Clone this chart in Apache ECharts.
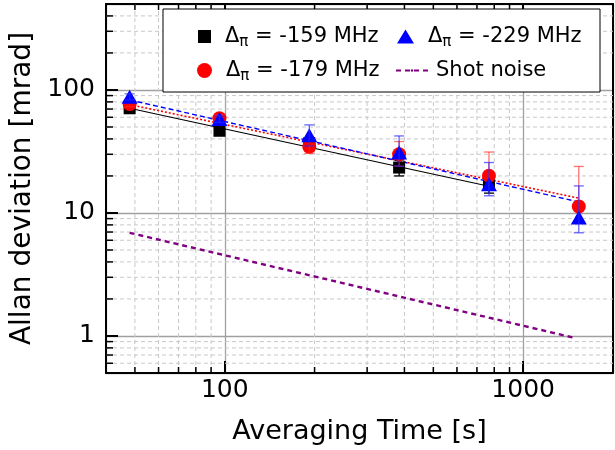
<!DOCTYPE html>
<html><head><meta charset="utf-8">
<script src="https://cdn.jsdelivr.net/npm/echarts@6/dist/echarts.min.js"></script>
<style>html,body{margin:0;padding:0;background:#fff}#c{width:615px;height:450px}</style>
</head><body><div id="c"></div>
<script>
// ---- data ----
const times = [48, 96, 192, 384, 768, 1536];
const dev159 = [71, 46.6, 37, 23.4, 17.5];
const low159 = [68, 44.5, 34, 20.0, 14.5];
const high159 = [74, 49, 40, 27, 21];
const dev179 = [77, 59, 34.5, 30, 20.1, 11.3];
const low179 = [73, 55.5, 30.5, 24, 15.4, 8.6];
const high179 = [81, 62.5, 39.3, 38.1, 31.3, 23.9];
const dev229 = [88, 58, 42.8, 31, 17.1, 9.2];
const low229 = [83, 54.5, 35, 24, 13.8, 6.9];
const high229 = [93, 61.5, 52, 42.3, 25.7, 16.6];
const fitTimes159 = [48, 768];
const fit159 = [71, 16.5];
const fitTimes = [48, 1536];
const fit179 = [76, 13.2];
const fit229 = [83, 12.3];
const shotTimes = [48, 1500];
const shotNoise = [6.9, 0.96];
const xMinorTicks = [50, 60, 70, 80, 90, 200, 300, 400, 500, 600, 700, 800, 900];
const yMinorTicks = [0.6, 0.7, 0.8, 0.9, 2, 3, 4, 5, 6, 7, 8, 9, 20, 30, 40, 50, 60, 70, 80, 90, 200, 300, 400];
const names = ['Δπ = -159 MHz', 'Δπ = -179 MHz', 'Δπ = -229 MHz', 'Shot noise'];

const FONT = 'DejaVu Sans';
const zip = (xs, ys) => ys.map((v, i) => [xs[i], v]);
const zip3 = (xs, lo, hi) => lo.map((v, i) => [xs[i], v, hi[i]]);

function errSeries(id, color, lo, hi, z) {
  return {
    type: 'custom', name: id, z: z, silent: true,
    data: zip3(times, lo, hi),
    encode: { x: 0, y: [1, 2] },
    renderItem: function (params, api) {
      const t = api.value(0);
      const a = api.coord([t, api.value(1)]);
      const b = api.coord([t, api.value(2)]);
      const w = 5;
      const st = { stroke: color, lineWidth: 1.3 };
      return { type: 'group', children: [
        { type: 'line', shape: { x1: a[0], y1: a[1], x2: b[0], y2: b[1] }, style: st },
        { type: 'line', shape: { x1: a[0] - w, y1: a[1], x2: a[0] + w, y2: a[1] }, style: st },
        { type: 'line', shape: { x1: b[0] - w, y1: b[1], x2: b[0] + w, y2: b[1] }, style: st }
      ]};
    }
  };
}

const richText = {
  d: { fontFamily: FONT, fontSize: 21, color: '#000' },
  s: { fontFamily: FONT, fontSize: 15, color: '#000', padding: [12, 0, 0, 0] },
  t: { fontFamily: FONT, fontSize: 21, color: '#000' }
};
function legendFmt(name) {
  if (name.indexOf('Δπ') === 0) return '{d|Δ}{s|π}{t|' + name.slice(2) + '}';
  return '{t|' + name + '}';
}
function oneLegend(name, icon, left, top, w, h, padLeft) {
  return {
    data: [{ name: name, icon: icon }], left: left, top: top, padding: 0,
    itemWidth: w, itemHeight: h, z: 20, selectedMode: false,
    formatter: legendFmt,
    textStyle: { fontFamily: FONT, fontSize: 21, color: '#000', padding: [0, 0, 0, padLeft], rich: richText }
  };
}

const chart = echarts.init(document.getElementById('c'), null, { renderer: 'canvas' });
const axisCommon = {
  type: 'log', logBase: 10
};
chart.setOption({
  animation: false,
  textStyle: { fontFamily: FONT },
  grid: { left: 106, right: 2, top: 4, bottom: 77 },
  graphic: [{
    type: 'rect', z: 10, shape: { x: 163, y: 9, width: 437, height: 83 },
    style: { fill: '#fff', stroke: '#000', lineWidth: 1 }
  }],
  legend: [
    oneLegend(names[0], 'rect', 198, 26, 13, 13, 9),
    oneLegend(names[2], 'triangle', 397, 26, 17, 14, 9),
    oneLegend(names[1], 'circle', 197, 60, 15, 15, 9),
    oneLegend(names[3], null, 395, 60, 32, 3, 3)
  ],
  xAxis: [{
    ...axisCommon, position: 'bottom', min: 40, max: 2000,
    name: 'Averaging Time [s]', nameLocation: 'middle', nameGap: 45,
    nameTextStyle: { fontFamily: FONT, fontSize: 27, color: '#000' },
    axisLine: { show: true, lineStyle: { color: '#000', width: 2 } },
    axisTick: { show: true, inside: true, length: 12, lineStyle: { color: '#000', width: 2 } },
    axisLabel: { fontFamily: FONT, fontSize: 25, color: '#000', margin: 5, showMinLabel: false, showMaxLabel: false, formatter: v => String(v) },
    splitLine: { show: true, lineStyle: { color: '#a0a0a0', width: 1.3 } }
  }, {
    ...axisCommon, position: 'top', min: 40, max: 2000,
    axisLine: { show: true, lineStyle: { color: '#000', width: 2 } },
    axisTick: { show: true, inside: true, length: 12, lineStyle: { color: '#000', width: 2 } },
    axisLabel: { show: false }, splitLine: { show: false }
  }],
  yAxis: [{
    ...axisCommon, position: 'left', min: 0.5, max: 500,
    name: 'Allan deviation [mrad]', nameLocation: 'middle', nameGap: 68,
    nameTextStyle: { fontFamily: FONT, fontSize: 28, color: '#000' },
    axisLine: { show: true, lineStyle: { color: '#000', width: 2 } },
    axisTick: { show: true, inside: true, length: 12, lineStyle: { color: '#000', width: 2 } },
    axisLabel: { fontFamily: FONT, fontSize: 25, color: '#000', margin: 11, showMinLabel: false, showMaxLabel: false, formatter: v => String(v) },
    splitLine: { show: true, lineStyle: { color: '#a0a0a0', width: 1.3 } }
  }, {
    ...axisCommon, position: 'right', min: 0.5, max: 500,
    axisLine: { show: true, lineStyle: { color: '#000', width: 2 } },
    axisTick: { show: false }, axisLabel: { show: false }, splitLine: { show: false }
  }],
  series: [
    {
      type: 'custom', name: 'xminor', z: 1, silent: true,
      data: xMinorTicks.map(v => [v, 1]), encode: { x: 0, y: 1 },
      renderItem: function (params, api) {
        const cs = params.coordSys;
        const x = api.coord([api.value(0), 1])[0];
        const bot = cs.y + cs.height;
        return { type: 'group', children: [
          { type: 'line', shape: { x1: x, y1: cs.y, x2: x, y2: bot }, style: { stroke: '#c8c8c8', lineWidth: 1, lineDash: [4, 3] } },
          { type: 'line', shape: { x1: x, y1: bot, x2: x, y2: bot - 6 }, style: { stroke: '#000', lineWidth: 1.5 } },
          { type: 'line', shape: { x1: x, y1: cs.y, x2: x, y2: cs.y + 6 }, style: { stroke: '#000', lineWidth: 1.5 } }
        ]};
      }
    },
    {
      type: 'custom', name: 'yminor', z: 1, silent: true,
      data: yMinorTicks.map(v => [100, v]), encode: { x: 0, y: 1 },
      renderItem: function (params, api) {
        const cs = params.coordSys;
        const y = api.coord([100, api.value(1)])[1];
        return { type: 'group', children: [
          { type: 'line', shape: { x1: cs.x, y1: y, x2: cs.x + cs.width, y2: y }, style: { stroke: '#c8c8c8', lineWidth: 1, lineDash: [4, 3] } },
          { type: 'line', shape: { x1: cs.x, y1: y, x2: cs.x + 7, y2: y }, style: { stroke: '#000', lineWidth: 1.5 } }
        ]};
      }
    },
    { type: 'line', name: 'fit159', data: zip(fitTimes159, fit159), symbol: 'none', z: 2, silent: true,
      lineStyle: { color: '#000', width: 1.2, type: 'solid' } },
    { type: 'line', name: 'fit179', data: zip(fitTimes, fit179), symbol: 'none', z: 2, silent: true,
      lineStyle: { color: '#ff0000', width: 1.6, type: [2, 2] } },
    { type: 'line', name: 'fit229', data: zip(fitTimes, fit229), symbol: 'none', z: 2, silent: true,
      lineStyle: { color: '#0000ff', width: 1.4, type: [5, 3] } },
    { type: 'line', name: names[3], data: zip(shotTimes, shotNoise), symbol: 'none', z: 2, silent: true,
      itemStyle: { color: '#800080' },
      lineStyle: { color: '#800080', width: 2.4, type: [5, 4] } },
    { type: 'scatter', name: names[0], data: zip(times, dev159), symbol: 'rect', symbolSize: 12, z: 3,
      itemStyle: { color: '#000', opacity: 1 } },
    errSeries('err159', '#000000', low159, high159, 4),
    { type: 'scatter', name: names[1], data: zip(times, dev179), symbol: 'circle', symbolSize: 14, z: 5,
      itemStyle: { color: '#ff0000', opacity: 1 } },
    errSeries('err179', 'rgba(255,40,40,0.65)', low179, high179, 6),
    { type: 'scatter', name: names[2], data: zip(times, dev229), symbol: 'triangle', symbolSize: [16, 14], z: 7,
      itemStyle: { color: '#0000ff', opacity: 1 } },
    errSeries('err229', 'rgba(40,40,255,0.7)', low229, high229, 8)
  ]
});
</script>
</body></html>
